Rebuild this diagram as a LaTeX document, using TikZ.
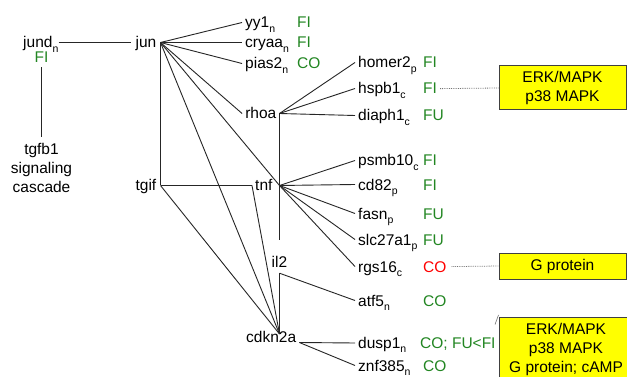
\documentclass[tikz,border=0pt]{standalone}
\usepackage{fontspec}
\setmainfont{Liberation Sans}
\definecolor{evgreen}{RGB}{34,134,34}
\definecolor{evred}{RGB}{255,0,0}
\definecolor{boxyellow}{RGB}{255,255,0}
% lowered, smaller location index after a gene name
\newcommand\gsub[1]{\raisebox{-4.5pt}{\fontsize{10.5}{12}\selectfont #1}}
\begin{document}
\begin{tikzpicture}[x=1pt, y=-1pt,
  every node/.style={font=\fontsize{15.5}{19}\selectfont},
  gene/.style={anchor=base west, inner xsep=3pt, inner ysep=0pt, text height=11pt, text depth=0pt},
  hubgene/.style={gene, anchor=base east},
  ev/.style={anchor=base west, inner sep=0pt, text=evgreen},
  evr/.style={ev, text=evred},
  link/.style={draw=black!85, line width=0.9pt},
  dotlink/.style={draw=black!55, densely dotted, line width=0.8pt},
  pathway/.style={draw=black!75, line width=1pt, fill=boxyellow, align=center, inner xsep=3pt}
]
\fill[white] (0,0) rectangle (627,377);
\useasboundingbox (0,0) rectangle (627,377);

% ---- left part ----
\node[gene, inner xsep=0pt] (jund) at (23,48) {jund\gsub{n}};
\node[ev, anchor=base, inner ysep=4pt] (jundev) at (41.5,63) {FI};
\node[align=center, anchor=north, inner xsep=0pt, inner ysep=6.5pt] (tgfb1) at (41.5,137) {tgfb1\\signaling\\cascade};

\node[hubgene, inner xsep=4pt] (jun) at (160.5,48) {jun};
\node[hubgene, inner xsep=4pt] (tgif) at (160.5,191) {tgif};

% ---- genes linked to jun ----
\node[gene] (yy1) at (242,28) {yy1\gsub{n}};
\node[gene] (cryaa) at (242,48) {cryaa\gsub{n}};
\node[gene] (pias2) at (242,69) {pias2\gsub{n}};
\node[ev] (yy1ev) at (297,28) {FI};
\node[ev] (cryaaev) at (297,48) {FI};
\node[ev] (pias2ev) at (297,69) {CO};

% ---- central column ----
\node[hubgene] (rhoa) at (279.5,119) {rhoa};
\node[gene] (tnf) at (252,191) {tnf};
\coordinate (tnfhub) at (279.5,185.5);
\node[anchor=base, inner xsep=3pt, inner ysep=6pt, text height=21pt, text depth=0pt] (il2) at (279.5,267) {il2};
\node[gene] (cdkn2a) at (243,342) {cdkn2a};
\coordinate (cdkhub) at (279.5,334);

% ---- right column ----
\node[gene] (homer2) at (355,68) {homer2\gsub{p}};
\node[gene] (hspb1) at (355,94) {hspb1\gsub{c}};
\node[gene] (diaph1) at (355,121) {diaph1\gsub{c}};
\node[gene] (psmb10) at (355,166) {psmb10\gsub{c}};
\node[gene] (cd82) at (355,190) {cd82\gsub{p}};
\node[gene] (fasn) at (355,219) {fasn\gsub{p}};
\node[gene] (slc27a1) at (355,245) {slc27a1\gsub{p}};
\node[gene] (rgs16) at (355,272) {rgs16\gsub{c}};
\node[gene] (atf5) at (355,306) {atf5\gsub{n}};
\node[gene] (dusp1) at (355,348) {dusp1\gsub{n}};
\node[gene] (znf385) at (355,371) {znf385\gsub{n}};

\node[ev] (homer2ev) at (423,68) {FI};
\node[ev] (hspb1ev) at (423,94) {FI};
\node[ev] (diaph1ev) at (423,121) {FU};
\node[ev] (psmb10ev) at (423,166) {FI};
\node[ev] (cd82ev) at (423,190) {FI};
\node[ev] (fasnev) at (423,219) {FU};
\node[ev] (slc27a1ev) at (423,245) {FU};
\node[evr] (rgs16ev) at (423,272) {CO};
\node[ev] (atf5ev) at (423,306) {CO};
\node[ev] (dusp1ev) at (420,348) {CO; FU<FI};
\node[ev] (znf385ev) at (423,371) {CO};
\coordinate (dusp1tip) at (495,324.5);

% ---- pathway boxes ----
\node[pathway, minimum width=127pt, minimum height=44pt] (erk1) at (562.5,88) {ERK/MAPK\\p38 MAPK};
\node[pathway, minimum width=127pt, minimum height=26pt] (gprot) at (562.5,266) {G protein};
\node[pathway, anchor=north, minimum width=134pt, inner ysep=6pt] (erk2) at (566,317) {ERK/MAPK\\p38 MAPK\\G protein; cAMP};

% ---- connectors ----
\draw[link] (jund.east) -- (jun.west);
\draw[link] (jundev.south) -- (tgfb1.north);

\foreach \g in {yy1,cryaa,pias2,rhoa}
  \draw[link] (jun.east) -- (\g.west);
\draw[link] (jun.east) -- (tnfhub);
\draw[link] (jun.east) -- (cdkhub);
\draw[link] (jun.east) -- (tgif.east);
\draw[link] (tgif.east) -- (tnf.west);
\draw[link] (tgif.east) -- (cdkhub);
\draw[link] (tnf.west) -- (cdkhub);

\draw[link] (rhoa.east) -- (tnfhub) -- (il2.north);
\draw[link] (il2.south) -- (cdkhub);
\draw[link] (il2.south) -- (atf5.west);

\foreach \g in {homer2,hspb1,diaph1}
  \draw[link] (rhoa.east) -- (\g.west);
\foreach \g in {psmb10,cd82,fasn,slc27a1,rgs16}
  \draw[link] (tnfhub) -- (\g.west);
\draw[link] ([yshift=-0.5pt]cdkn2a.base east) -- ([yshift=-0.5pt]dusp1.west);
\draw[link] ([yshift=-0.5pt]cdkn2a.base east) -- (znf385.west);

\draw[dotlink, shorten <=3pt] (hspb1ev.east) -- (erk1.west);
\draw[dotlink, shorten <=5pt] (rgs16ev.east) -- (gprot.west);
\draw[draw=black!55, line width=0.6pt] (dusp1tip) -- ([yshift=2pt]erk2.north west);
\end{tikzpicture}
\end{document}
